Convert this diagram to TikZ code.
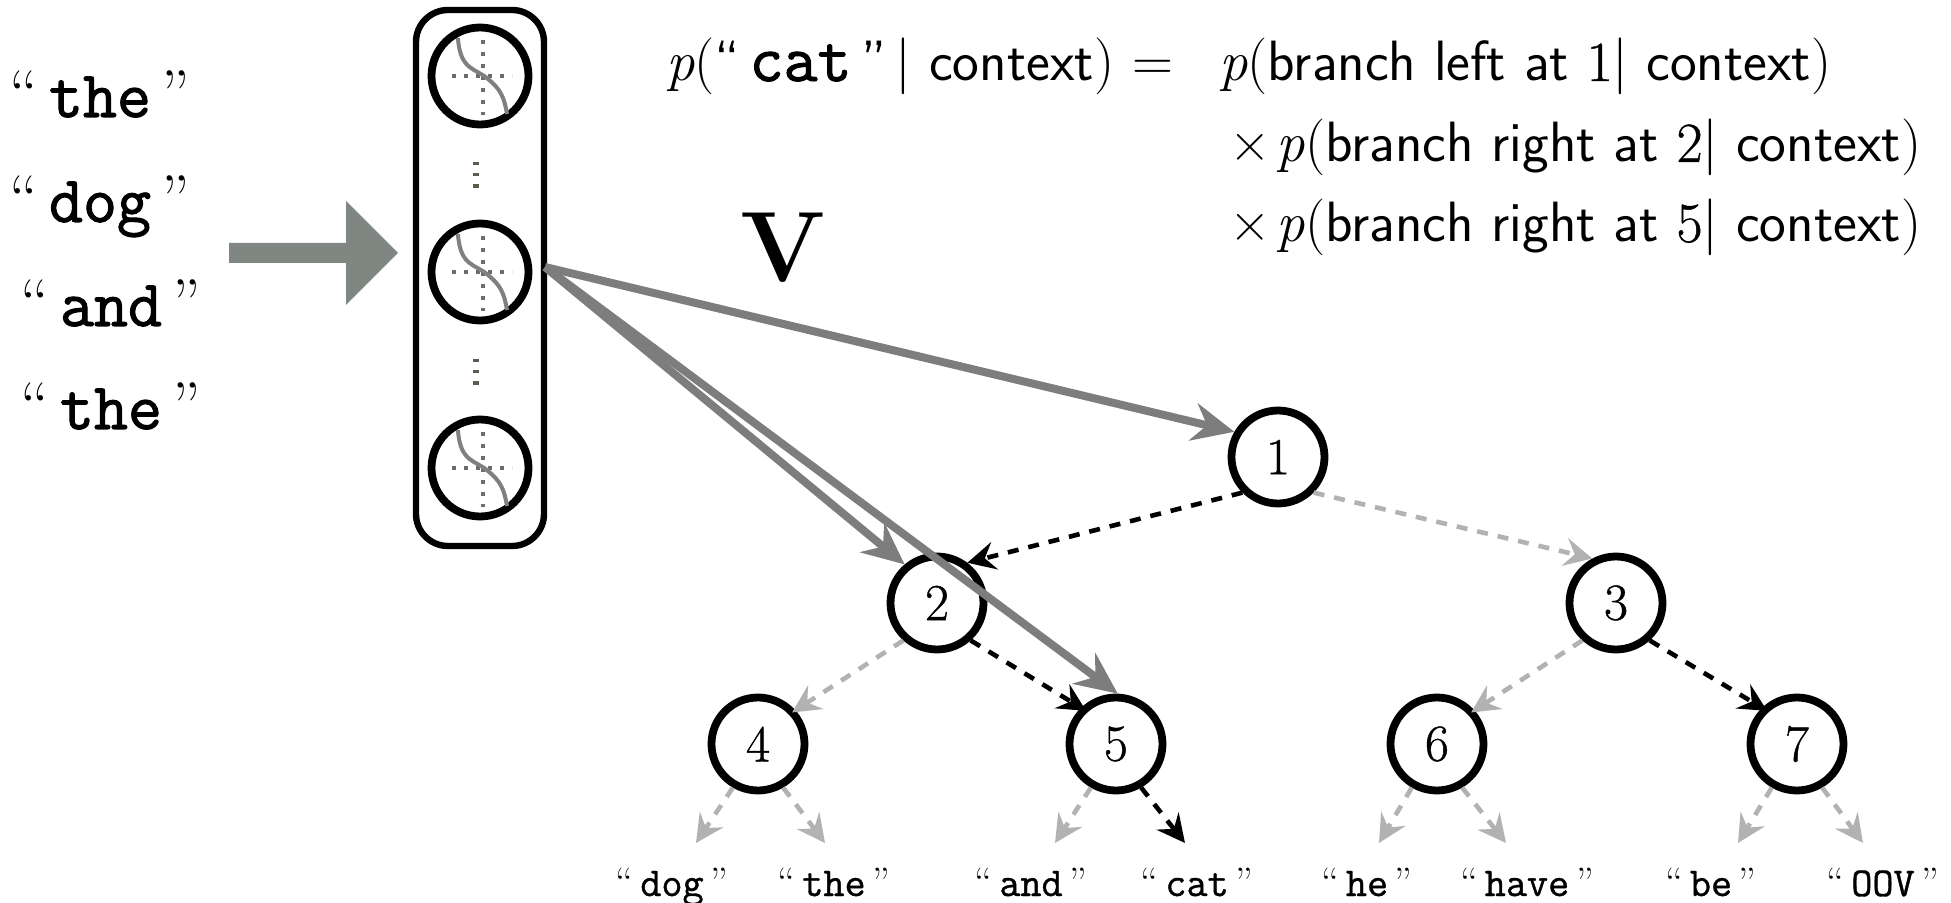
\documentclass[tikz,border=0pt]{standalone}
\usepackage{fontspec}
\usetikzlibrary{arrows.meta,calc}
\newfontfamily\ttb[FakeBold=1.6]{Latin Modern Mono}
\newfontfamily\ttm[FakeBold=0.9]{Latin Modern Mono}
\newfontfamily\digf[FakeBold=0.8]{Latin Modern Roman}
\definecolor{vgrey}{RGB}{125,125,125}
\definecolor{fatgrey}{RGB}{128,134,130}
\definecolor{lightg}{RGB}{178,178,178}
\definecolor{dotg}{RGB}{95,90,80}
\newcommand{\bigtt}[1]{{\ttb #1}}
\newcommand{\smalltt}[1]{{\ttm #1}}
\newcommand{\pp}{{\rmfamily\itshape p}{\rmfamily(}}
\newcommand{\cl}{{\rmfamily)}}
\newcommand{\dg}[1]{{\digf #1}}
\tikzset{
  x=0.5pt,y=-0.5pt,
  treenode/.style={circle,draw=black,line width=3.9pt,fill=white,minimum size=46.5pt,inner sep=0pt,font=\fontsize{26}{30}\selectfont\digf},
  unitnode/.style={circle,draw=black,line width=3.9pt,minimum size=48.5pt,inner sep=0pt},
  unitbox/.style={rectangle,draw=black,line width=3.2pt,rounded corners=16pt,minimum width=64pt,minimum height=268pt,inner sep=0pt},
  varrow/.style={draw=vgrey,line width=4pt,-{Stealth[length=21pt,width=19pt,inset=7pt]}},
  darr/.style={line width=2.3pt,dash pattern=on 5.5pt off 5pt,-{Stealth[length=14pt,width=14pt,inset=5pt]}},
  blackarr/.style={darr,draw=black},
  greyarr/.style={darr,draw=lightg},
  leaflabel/.style={font=\fontsize{20.5}{24}\selectfont,inner sep=0pt,anchor=base},
  wordlabel/.style={font=\fontsize{33}{36}\selectfont,inner sep=0pt,anchor=base},
  formula/.style={font=\fontsize{28.4}{32}\selectfont\sffamily,inner sep=0pt,anchor=base west},
  vdots/.style={draw=dotg,line width=3pt,dash pattern=on 1.6pt off 4pt},
  axis/.style={draw=gray!85!black,line width=1.6pt,dash pattern=on 2.2pt off 3.8pt},
  scurve/.style={draw=gray,line width=2pt},
}
\begin{document}
\begin{tikzpicture}
\useasboundingbox[fill=white] (0,0) rectangle (1951,903);

% input words
\node[wordlabel] (w1) at (100,117) {``\,\bigtt{the}\,''};
\node[wordlabel] (w2) at (100,222) {``\,\bigtt{dog}\,''};
\node[wordlabel] (w3) at (111,326) {``\,\bigtt{and}\,''};
\node[wordlabel] (w4) at (111,429) {``\,\bigtt{the}\,''};

% fat arrow
\fill[fatgrey] (229,243) -- (346,243) -- (346,201) -- (398,253) -- (346,305) -- (346,263) -- (229,263) -- cycle;

% hidden layer
\node[unitbox] (box) at (480,278) {};
\node[unitnode] (o1) at (480,76) {};
\node[unitnode] (o2) at (480,272) {};
\node[unitnode] (o3) at (480,468) {};
\foreach \n in {o1,o2,o3}{
  \draw[axis] ($(\n)+(-28,0)$) -- ($(\n)+(32,0)$);
  \draw[axis] ($(\n)+(3,-36)$) -- ($(\n)+(3,39)$);
  \draw[scurve] ($(\n)+(-22,-38)$) .. controls ($(\n)+(-20,-5)$) and ($(\n)+(-4,-8)$) .. ($(\n)+(8,3)$) .. controls ($(\n)+(20,13)$) and ($(\n)+(24,20)$) .. ($(\n)+(27,38)$);
}
\path (476,162) coordinate (d1a) (476,192) coordinate (d1b) (476,359) coordinate (d2a) (476,389) coordinate (d2b);
\draw[vdots] (d1a) -- (d1b);
\draw[vdots] (d2a) -- (d2b);

% tree
\node[treenode] (n1) at (1278,457) {1};
\node[treenode] (n2) at (937,603) {2};
\node[treenode] (n3) at (1616,603) {3};
\node[treenode] (n4) at (758,744) {4};
\node[treenode] (n5) at (1116,744) {5};
\node[treenode] (n6) at (1437,744) {6};
\node[treenode] (n7) at (1797,744) {7};

\draw[blackarr] (n1.225) -- (n2.53);
\draw[greyarr] (n1.-45) -- (n3.118);
\draw[greyarr,shorten >=-2pt] (n2.228) -- (n4.42);
\draw[blackarr,shorten >=-3pt] (n2.-48) -- (n5.134);
\draw[greyarr,shorten >=-2pt] (n3.228) -- (n6.42);
\draw[blackarr,shorten >=-3pt] (n3.-48) -- (n7.134);

% leaf labels
\node[leaflabel] (l1) at (672,896) {``\,\smalltt{dog}\,''};
\node[leaflabel] (l2) at (834,896) {``\,\smalltt{the}\,''};
\node[leaflabel] (l3) at (1031,896) {``\,\smalltt{and}\,''};
\node[leaflabel] (l4) at (1197,896) {``\,\smalltt{cat}\,''};
\node[leaflabel] (l5) at (1367,896) {``\,\smalltt{he}\,''};
\node[leaflabel] (l6) at (1527,896) {``\,\smalltt{have}\,''};
\node[leaflabel] (l7) at (1711,896) {``\,\smalltt{be}\,''};
\node[leaflabel] (l8) at (1883,896) {``\,\smalltt{OOV}\,''};

\coordinate (e1) at (696,843);
\coordinate (e2) at (825,843);
\coordinate (e3) at (1055,843);
\coordinate (e4) at (1185,843);
\coordinate (e5) at (1379,843);
\coordinate (e6) at (1506,843);
\coordinate (e7) at (1738,843);
\coordinate (e8) at (1863,843);
\draw[greyarr] (n4.240) -- (e1);
\draw[greyarr] (n4.-60) -- (e2);
\draw[greyarr] (n5.240) -- (e3);
\draw[blackarr] (n5.-60) -- (e4);
\draw[greyarr] (n6.240) -- (e5);
\draw[greyarr] (n6.-60) -- (e6);
\draw[greyarr] (n7.240) -- (e7);
\draw[greyarr] (n7.-60) -- (e8);

% V arrows
\coordinate (vsrc) at (545,267);
\draw[varrow] (vsrc) -- (n1.150);
\draw[varrow] (vsrc) -- (n2.130);
\draw[varrow] (vsrc) -- (n5.88);
\node[font=\fontsize{50}{54}\selectfont\rmfamily\bfseries,inner sep=0pt,anchor=base] (V) at (783,282) {V};

% formula
\node[formula] (f1) at (666,81) {\pp``\,{\ttb\fontsize{33}{36}\selectfont cat}\,''\,| context\cl\hspace{9pt}{\rmfamily=}};
\node[formula] (f2) at (1219,81) {\pp branch left at \dg{1}| context\cl};
\node[formula] (f3) at (1229,162) {×\hspace{3pt}\pp branch right at \dg{2}| context\cl};
\node[formula] (f4) at (1229,242) {×\hspace{3pt}\pp branch right at \dg{5}| context\cl};
\end{tikzpicture}
\end{document}
